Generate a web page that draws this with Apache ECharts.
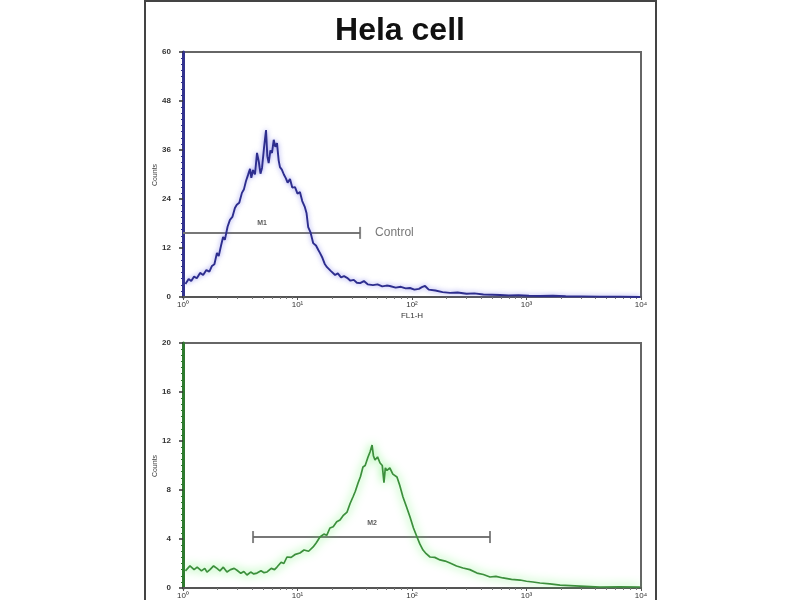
<!DOCTYPE html>
<html>
<head>
<meta charset="utf-8">
<script src="https://cdn.jsdelivr.net/npm/echarts@6/dist/echarts.min.js"></script>
<style>
  html, body { margin: 0; padding: 0; background: #fff; }
  #chart { width: 800px; height: 600px; }
</style>
</head>
<body>
<div id="chart"></div>
<script>
// FL1-H channel (log scale) and counts
var topX = [1.05, 1.12, 1.18, 1.25, 1.32, 1.41, 1.5, 1.6, 1.7, 1.79, 1.88, 1.98, 2.05, 2.15, 2.24, 2.32, 2.45, 2.57, 2.7, 2.84, 2.95, 3.1, 3.27, 3.4, 3.55, 3.7, 3.85, 3.95, 4.09, 4.25, 4.43, 4.6, 4.75, 4.9, 5.1, 5.31, 5.45, 5.6, 5.8, 5.99, 6.2, 6.4, 6.62, 6.85, 7.03, 7.3, 7.6, 7.9, 8.2, 8.6, 9.0, 9.51, 10.0, 10.5, 11.0, 11.6, 12.0, 12.4, 13.0, 13.7, 14.5, 15.2, 15.7, 16.5, 17.3, 18.1, 19.5, 21.3, 22.5, 24, 25.5, 27.1, 29, 31, 33, 35.2, 38, 41, 45.6, 50, 55, 60, 64, 72, 80, 88, 96, 105, 115, 122, 130, 140, 160, 185, 215, 250, 300, 350, 420, 500, 587, 700, 850, 1050, 1312, 1700, 2200, 3000, 4370, 6500, 9800];
var topY = [3.2, 4.4, 3.9, 5.0, 4.6, 5.9, 5.4, 6.6, 6.2, 7.6, 8.0, 10.8, 10.0, 12.6, 14.7, 14.0, 17.2, 18.9, 19.6, 21.8, 22.6, 23.1, 25.5, 26.3, 28.4, 29.9, 31.4, 29.2, 31.1, 30.0, 35.3, 33.0, 30.2, 31.6, 36.5, 40.9, 34.5, 32.8, 35.9, 35.3, 38.5, 36.8, 37.7, 33.4, 31.8, 31.2, 30.0, 29.1, 28.0, 28.9, 26.8, 26.9, 25.3, 25.7, 23.5, 22.0, 20.5, 17.1, 15.8, 13.2, 12.6, 11.5, 10.8, 9.6, 8.1, 7.3, 6.4, 5.4, 5.8, 4.8, 5.1, 4.7, 4.0, 4.2, 3.5, 3.4, 3.9, 3.1, 2.9, 3.1, 2.6, 2.8, 2.7, 2.3, 2.5, 2.1, 2.2, 1.8, 2.0, 2.4, 2.7, 1.8, 1.6, 1.2, 1.0, 1.1, 0.8, 0.9, 0.6, 0.55, 0.5, 0.4, 0.45, 0.3, 0.25, 0.3, 0.2, 0.15, 0.1, 0.1, 0];

var botX = [1.05, 1.15, 1.25, 1.33, 1.45, 1.55, 1.62, 1.72, 1.85, 1.98, 2.1, 2.25, 2.42, 2.6, 2.8, 2.96, 3.2, 3.4, 3.62, 3.9, 4.15, 4.43, 4.8, 5.1, 5.42, 5.9, 6.3, 6.62, 7.2, 7.6, 8.09, 8.8, 9.6, 10.5, 11.4, 12.5, 13.7, 14.6, 15.7, 17, 18, 19.2, 20.5, 22, 23.5, 25, 27.1, 28.8, 30.5, 32, 33.8, 35.5, 37.3, 39, 41.3, 43, 44.8, 46, 47.5, 50, 52.6, 55, 56.9, 58.5, 60.5, 64, 68, 73.9, 78, 83.4, 89, 96.1, 103, 110.6, 117, 124.8, 133, 143.6, 158, 175.7, 195, 214.6, 245, 278.9, 320, 369.6, 420, 480, 540, 623, 740, 878, 1000, 1140, 1312, 1600, 1963, 2400, 2933, 3600, 4385, 6500, 9795];
var botY = [1.4, 1.8, 1.5, 1.7, 1.4, 1.6, 1.3, 1.5, 1.8, 1.6, 1.4, 1.7, 1.3, 1.5, 1.6, 1.45, 1.2, 1.35, 1.06, 1.3, 1.15, 1.22, 1.4, 1.25, 1.31, 1.6, 1.5, 1.71, 2.1, 2.0, 2.53, 2.5, 2.75, 2.86, 3.1, 3.0, 3.35, 3.7, 4.16, 4.4, 4.3, 4.9, 5.0, 5.4, 5.55, 5.9, 6.2, 6.9, 7.43, 7.9, 8.57, 9.1, 9.88, 10.0, 10.69, 11.1, 11.67, 10.8, 10.45, 10.7, 10.2, 10.0, 8.6, 9.8, 9.6, 9.8, 9.3, 9.06, 8.4, 7.43, 6.7, 5.8, 4.9, 4.16, 3.6, 3.1, 2.8, 2.53, 2.5, 2.29, 2.2, 2.04, 1.8, 1.63, 1.5, 1.22, 1.1, 0.9, 0.95, 0.82, 0.7, 0.65, 0.55, 0.49, 0.41, 0.33, 0.24, 0.2, 0.16, 0.12, 0.08, 0.1, 0.08];

// marker gates
var gateM1 = [[1, 15.7], [35.2, 15.7]];
var gateM2 = [[4.09, 4.16], [480, 4.16]];

var xTicks = ['10⁰', '10¹', '10²', '10³', '10⁴'];
var topMax = 60, topStep = 12;
var botMax = 20, botStep = 4;

function pairs(xs, ys) {
  return xs.map(function (x, i) { return [x, ys[i]]; });
}

var chart = echarts.init(document.getElementById('chart'));

function xAxis(idx, name) {
  return {
    type: 'log', logBase: 10, min: 1, max: 10000, gridIndex: idx,
    name: name, nameLocation: 'middle', nameGap: 15,
    nameTextStyle: { fontSize: 8, color: '#333', fontFamily: 'Liberation Sans' },
    axisLine: { lineStyle: { color: '#555', width: 2 } },
    axisTick: { length: 3, lineStyle: { color: '#555' } },
    minorTick: { show: true, splitNumber: 9, length: 2, lineStyle: { color: '#777' } },
    splitLine: { show: false },
    axisLabel: {
      fontSize: 8, color: '#333', margin: 4, fontFamily: 'Liberation Sans',
      formatter: function (v) { return xTicks[Math.round(Math.log10(v))]; }
    }
  };
}

function yAxis(idx, max, step, color) {
  return {
    type: 'value', min: 0, max: max, interval: step, gridIndex: idx,
    axisLine: { show: true, lineStyle: { color: color, width: 3 } },
    axisTick: { show: true, length: 4, lineStyle: { color: '#333', width: 1.5 } },
    minorTick: { show: true, splitNumber: 8, length: 2, lineStyle: { color: color } },
    splitLine: { show: false },
    axisLabel: { fontSize: 8, fontWeight: 'bold', color: '#333', margin: 12, fontFamily: 'Liberation Sans' }
  };
}

function countsLabel(cy) {
  return {
    type: 'text', x: 155, y: cy, rotation: Math.PI / 2,
    style: { text: 'Counts', fontSize: 7, fill: '#444', fontFamily: 'Liberation Sans', align: 'center', verticalAlign: 'middle' }
  };
}

var gateStyle = { color: '#777', width: 2 };

var option = {
  animation: false,
  backgroundColor: '#fff',
  title: {
    text: 'Hela cell', left: 'center', top: 10,
    textStyle: { fontSize: 32, fontWeight: 'bold', color: '#111', fontFamily: 'Liberation Sans' }
  },
  graphic: [{
    type: 'rect', shape: { x: 145, y: 1, width: 511, height: 640 },
    style: { fill: 'none', stroke: '#444', lineWidth: 2 }
  }, countsLabel(175), countsLabel(466)],
  grid: [
    { left: 183, top: 52, width: 458, height: 245, show: true, borderColor: '#666', borderWidth: 2 },
    { left: 183, top: 343, width: 458, height: 245, show: true, borderColor: '#666', borderWidth: 2 }
  ],
  xAxis: [xAxis(0, 'FL1-H'), xAxis(1, '')],
  yAxis: [yAxis(0, topMax, topStep, '#33338f'), yAxis(1, botMax, botStep, '#2f7a2f')],
  series: [
    {
      type: 'line', xAxisIndex: 0, yAxisIndex: 0, data: pairs(topX, topY),
      symbol: 'none', smooth: false,
      lineStyle: { color: '#2d2d8e', width: 1.9, shadowColor: 'rgba(100,100,230,0.7)', shadowBlur: 5 }
    },
    {
      type: 'line', xAxisIndex: 1, yAxisIndex: 1, data: pairs(botX, botY),
      symbol: 'none', smooth: false,
      lineStyle: { color: '#3c8f3c', width: 1.7, shadowColor: 'rgba(80,235,80,1)', shadowBlur: 10 }
    },
    {
      type: 'line', xAxisIndex: 0, yAxisIndex: 0, data: gateM1, symbol: 'none',
      lineStyle: gateStyle, z: 1
    },
    {
      type: 'line', xAxisIndex: 1, yAxisIndex: 1, data: gateM2, symbol: 'none',
      lineStyle: gateStyle, z: 1
    },
    {
      // gate end bars and labels
      type: 'scatter', xAxisIndex: 0, yAxisIndex: 0,
      symbol: 'rect', symbolSize: [2, 12], itemStyle: { color: '#666' },
      data: [{
        value: gateM1[1],
        label: { show: true, position: 'right', distance: 14, formatter: 'Control', fontSize: 12, color: '#555', fontFamily: 'Liberation Sans' }
      }]
    },
    {
      type: 'scatter', xAxisIndex: 1, yAxisIndex: 1,
      symbol: 'rect', symbolSize: [2, 12], itemStyle: { color: '#666' },
      data: [gateM2[0], gateM2[1]]
    },
    {
      type: 'scatter', xAxisIndex: 0, yAxisIndex: 0, symbolSize: 0,
      data: [[4.9, 15.7]],
      label: { show: true, position: 'top', distance: 6, formatter: 'M1', fontSize: 7, fontWeight: 'bold', color: '#333' }
    },
    {
      type: 'scatter', xAxisIndex: 1, yAxisIndex: 1, symbolSize: 0,
      data: [[44.8, 4.16]],
      label: { show: true, position: 'top', distance: 10, formatter: 'M2', fontSize: 7, fontWeight: 'bold', color: '#333' }
    }
  ]
};

chart.setOption(option);
</script>
</body>
</html>
